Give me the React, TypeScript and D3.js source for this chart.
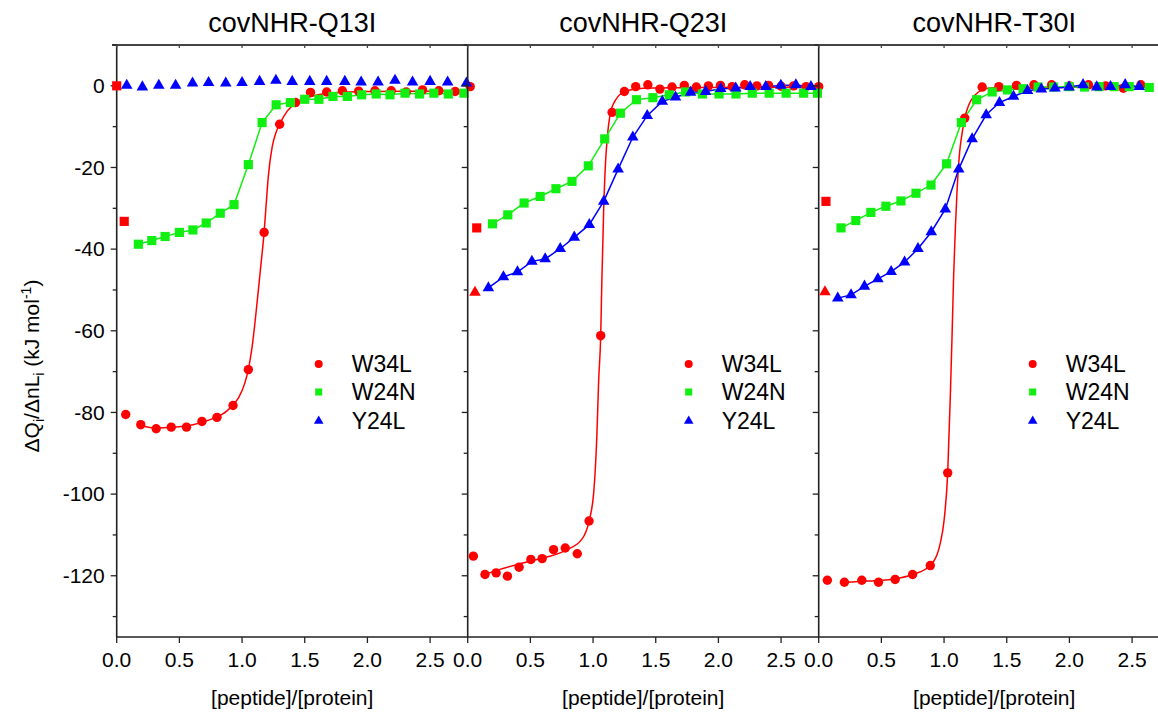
import * as d3 from "d3";

type Pt = [number, number];

const W = 1158;
const H = 713;

const panelTitles = ["covNHR-Q13I", "covNHR-Q23I", "covNHR-T30I"];
const seriesNames = ["W34L", "W24N", "Y24L"];
const seriesColors = ["#ff0000", "#11ee11", "#0000ff"];
const xTicks = [0, 0.5, 1.0, 1.5, 2.0, 2.5];
const yTicks = [0, -20, -40, -60, -80, -100, -120];
const yMinorTicks = [10, -10, -30, -50, -70, -90, -110, -130];
const xLabel = "[peptide]/[protein]";

// covNHR-Q13I
const q13iW34L: Pt[] = [[0.072, -80.5], [0.192, -83.0], [0.315, -84.0], [0.435, -83.6], [0.557, -83.6], [0.68, -82.2], [0.8, -81.2], [0.928, -78.3], [1.05, -69.5], [1.176, -35.9], [1.3, -9.4], [1.426, -4.1], [1.546, -1.6], [1.675, -1.5], [1.8, -1.2], [1.93, -1.3], [2.06, -1.2], [2.19, -1.2], [2.31, -1.5], [2.44, -1.0], [2.57, -1.2], [2.7, -1.4], [2.82, -0.2]];
const q13iW34LFit: Pt[] = [[0.19, -83.2], [0.3, -83.8], [0.45, -83.6], [0.6, -83.1], [0.75, -81.7], [0.88, -79.6], [0.97, -76.5], [1.02, -73], [1.05, -69.5], [1.08, -64], [1.11, -56], [1.14, -47], [1.16, -41], [1.176, -35.9], [1.19, -30], [1.21, -22], [1.24, -15], [1.27, -11.5], [1.3, -9.4], [1.36, -6.2], [1.43, -4.2], [1.55, -2.6], [1.7, -1.8], [2.0, -1.4], [2.4, -1.3], [2.8, -1.2]];
const q13iW24N: Pt[] = [[0.173, -38.8], [0.28, -37.9], [0.386, -36.9], [0.5, -35.9], [0.608, -35.3], [0.714, -33.6], [0.826, -31.2], [0.936, -29.1], [1.05, -19.3], [1.16, -9.0], [1.272, -4.65], [1.386, -4.1], [1.5, -3.3], [1.613, -3.3], [1.725, -2.6], [1.84, -2.6], [1.954, -2.2], [2.07, -2.0], [2.18, -2.2], [2.3, -1.8], [2.416, -2.0], [2.53, -1.8], [2.645, -2.0], [2.77, -1.8]];
const q13iW24NOut: Pt[] = [[0.0, 0.0], [0.06, -33.2]];
const q13iY24L: Pt[] = [[0.08, 0.1], [0.205, -0.3], [0.336, 0.1], [0.47, 0.1], [0.605, 0.65], [0.733, 0.8], [0.87, 0.65], [1.0, 0.8], [1.14, 1.05], [1.27, 1.3], [1.4, 1.05], [1.54, 1.05], [1.675, 1.05], [1.82, 1.05], [1.95, 0.9], [2.085, 0.9], [2.22, 1.3], [2.36, 0.9], [2.5, 1.05], [2.64, 0.9], [2.79, 0.65]];
const q13iY24LOut: Pt[] = [];

// covNHR-Q23I
const q23iW34L: Pt[] = [[0.045, -115.2], [0.138, -119.7], [0.227, -119.3], [0.317, -120.1], [0.41, -117.9], [0.504, -116.0], [0.594, -115.8], [0.685, -113.6], [0.778, -113.2], [0.874, -114.6], [0.968, -106.6], [1.061, -61.2], [1.152, -6.5], [1.25, -1.4], [1.34, -0.2], [1.437, 0.25], [1.533, -0.8], [1.63, -0.3], [1.728, 0.1], [1.824, -0.3], [1.92, 0], [2.016, 0.1], [2.11, -0.2], [2.21, 0.25], [2.307, 0], [2.4, 0.1], [2.5, -0.1], [2.6, 0], [2.7, -0.2], [2.8, -0.2]];
const q23iW34LFit: Pt[] = [[0.138, -119.7], [0.25, -118.5], [0.5, -116.4], [0.78, -113.8], [0.91, -111.1], [0.968, -106.6], [1.005, -99.7], [1.03, -86], [1.045, -72], [1.061, -61.2], [1.07, -48], [1.085, -30], [1.1, -18.5], [1.112, -13.2], [1.138, -6.7], [1.17, -4], [1.205, -2.4], [1.25, -1.4], [1.4, -0.6], [1.8, -0.4], [2.8, -0.3]];
const q23iW24N: Pt[] = [[0.197, -33.8], [0.32, -31.6], [0.45, -28.7], [0.578, -27.1], [0.704, -25.2], [0.832, -23.4], [0.962, -19.6], [1.093, -13.0], [1.218, -6.7], [1.346, -3.4], [1.477, -2.9], [1.608, -2.2], [1.738, -1.5], [1.872, -2.0], [2.005, -2.0], [2.14, -2.0], [2.27, -1.8], [2.405, -1.8], [2.54, -1.8], [2.68, -1.8], [2.79, -1.8]];
const q23iW24NOut: Pt[] = [[0.072, -34.8]];
const q23iY24L: Pt[] = [[0.165, -49.5], [0.285, -46.8], [0.397, -45.6], [0.512, -43.0], [0.618, -42.4], [0.738, -39.9], [0.85, -37.1], [0.97, -34.0], [1.085, -28.3], [1.2, -20.4], [1.317, -12.6], [1.432, -7.3], [1.552, -3.8], [1.658, -2.8], [1.778, -1.6], [1.898, -1.4], [2.018, -0.7], [2.138, -0.6], [2.253, -0.2], [2.378, -0.2], [2.498, 0.1], [2.618, 0.2], [2.738, -0.2]];
const q23iY24LOut: Pt[] = [[0.058, -50.6]];

// covNHR-T30I
const t30iW34L: Pt[] = [[0.069, -121.1], [0.205, -121.6], [0.344, -121.1], [0.477, -121.6], [0.61, -120.9], [0.749, -119.7], [0.89, -117.5], [1.029, -94.8], [1.165, -7.9], [1.304, -0.3], [1.437, -0.2], [1.578, 0.1], [1.717, 0.25], [1.858, 0.25], [2.0, 0], [2.152, 0.25], [2.29, 0], [2.43, -0.6], [2.57, 0.25]];
const t30iW34LFit: Pt[] = [[0.205, -121.6], [0.4, -121.3], [0.6, -120.8], [0.75, -119.7], [0.89, -117.5], [0.97, -112], [1.0, -106.5], [1.029, -94.8], [1.05, -76], [1.064, -61], [1.077, -45.9], [1.09, -35], [1.104, -25.5], [1.125, -16], [1.144, -11.6], [1.165, -7.9], [1.197, -4.7], [1.25, -2.2], [1.304, -1.0], [1.4, -0.5], [2.6, -0.2]];
const t30iW24N: Pt[] = [[0.178, -34.8], [0.296, -33.0], [0.416, -31.0], [0.536, -29.5], [0.656, -28.2], [0.776, -26.3], [0.896, -24.3], [1.02, -19.1], [1.138, -9.0], [1.26, -3.4], [1.384, -1.5], [1.506, -1.0], [1.63, -0.7], [1.75, -0.3], [1.874, -0.3], [1.997, -0.2], [2.12, -0.3], [2.237, -0.2], [2.357, -0.2], [2.477, -0.2], [2.637, -0.4]];
const t30iW24NOut: Pt[] = [[0.058, -28.3]];
const t30iY24L: Pt[] = [[0.152, -52.0], [0.258, -51.2], [0.365, -49.1], [0.472, -47.3], [0.578, -45.5], [0.685, -43.2], [0.792, -39.9], [0.898, -35.8], [1.01, -30.2], [1.117, -20.4], [1.224, -13.0], [1.336, -7.1], [1.442, -4.1], [1.554, -2.6], [1.666, -1.2], [1.776, -0.8], [1.885, -0.6], [1.997, -0.3], [2.109, 0.25], [2.218, -0.3], [2.328, -0.2], [2.445, 0.25], [2.557, -0.2]];
const t30iY24LOut: Pt[] = [[0.05, -50.5]];

const panels = [
  { w34l: q13iW34L, fit: q13iW34LFit, w24n: q13iW24N, w24nOut: q13iW24NOut, y24l: q13iY24L, y24lOut: q13iY24LOut, y24lLine: false, legendDx: 202 },
  { w34l: q23iW34L, fit: q23iW34LFit, w24n: q23iW24N, w24nOut: q23iW24NOut, y24l: q23iY24L, y24lOut: q23iY24LOut, y24lLine: true, legendDx: 221 },
  { w34l: t30iW34L, fit: t30iW34LFit, w24n: t30iW24N, w24nOut: t30iW24NOut, y24l: t30iY24L, y24lOut: t30iY24LOut, y24lLine: true, legendDx: 214 },
];

// layout
const firstLeft = 116.7;
const panelW = 351;
const top = 45;
const bottom = 637;
const font = "'Liberation Sans', Arial, sans-serif";

const y = d3.scaleLinear().domain([-135, 10]).range([bottom, top]);

const circle = d3.symbol().type(d3.symbolCircle).size(Math.PI * 4.7 * 4.7);
const square = d3.symbol().type(d3.symbolSquare).size(84);
const triangle = d3.symbol().type(d3.symbolTriangle).size(58);
const legCircle = d3.symbol().type(d3.symbolCircle).size(Math.PI * 4 * 4);
const legSquare = d3.symbol().type(d3.symbolSquare).size(50);
const legTriangle = d3.symbol().type(d3.symbolTriangle).size(40);

const Panel = ({ i }: { i: number }) => {
  const p = panels[i];
  const left = firstLeft + i * panelW;
  const x = d3.scaleLinear().domain([0, 2.8]).range([left, left + panelW]);
  const straight = d3.line<Pt>().x((d) => x(d[0])).y((d) => y(d[1]));
  const smooth = d3.line<Pt>().x((d) => x(d[0])).y((d) => y(d[1])).curve(d3.curveMonotoneX);
  const marks = (data: Pt[], path: string | null, color: string, key: string) =>
    data.map((d, k) => (
      <path key={key + k} d={path ?? ""} transform={`translate(${x(d[0])},${y(d[1])})`} fill={color} />
    ));
  const legendY = [364, 392, 421];
  const legPaths = [legCircle(), legSquare(), legTriangle()];
  return (
    <g>
      {/* title */}
      <text x={left + panelW / 2} y={32} textAnchor="middle" fontSize={27} fontFamily={font}>
        {panelTitles[i]}
      </text>
      {/* left axis */}
      <line x1={left} x2={left} y1={top} y2={bottom} stroke="#222" strokeWidth={1.6} />
      {yTicks.map((t) => (
        <line key={"yt" + t} x1={left - 6} x2={left} y1={y(t)} y2={y(t)} stroke="#222" strokeWidth={1.3} />
      ))}
      {yMinorTicks.map((t) => (
        <line key={"ym" + t} x1={left - 4} x2={left} y1={y(t)} y2={y(t)} stroke="#222" strokeWidth={1.3} />
      ))}
      {i === 0 &&
        yTicks.map((t) => (
          <text key={"yl" + t} x={left - 12} y={y(t)} dy="0.35em" textAnchor="end" fontSize={21} fontFamily={font}>
            {t}
          </text>
        ))}
      {/* bottom axis */}
      <line x1={left} x2={left + panelW} y1={bottom} y2={bottom} stroke="#222" strokeWidth={1.6} />
      {xTicks.map((t) => (
        <g key={"xt" + t}>
          <line x1={x(t)} x2={x(t)} y1={bottom} y2={bottom + 6} stroke="#222" strokeWidth={1.3} />
          <line x1={x(t)} x2={x(t)} y1={top} y2={top + 3} stroke="#444" strokeWidth={1.3} />
          <text x={x(t)} y={667} textAnchor="middle" fontSize={21} fontFamily={font}>
            {t.toFixed(1)}
          </text>
        </g>
      ))}
      <text x={left + panelW / 2} y={705} textAnchor="middle" fontSize={21} fontFamily={font}>
        {xLabel}
      </text>
      {/* lines */}
      <path d={smooth(p.fit) ?? ""} fill="none" stroke={seriesColors[0]} strokeWidth={1.5} />
      <path d={straight(p.w24n) ?? ""} fill="none" stroke={seriesColors[1]} strokeWidth={1.5} />
      {p.y24lLine && <path d={straight(p.y24l) ?? ""} fill="none" stroke={seriesColors[2]} strokeWidth={1.5} />}
      {/* markers */}
      {marks(p.w24nOut, square(), seriesColors[0], "wo")}
      {marks(p.y24lOut, triangle(), seriesColors[0], "yo")}
      {marks(p.w34l, circle(), seriesColors[0], "r")}
      {marks(p.w24n, square(), seriesColors[1], "g")}
      {marks(p.y24l, triangle(), seriesColors[2], "b")}
      {/* legend */}
      {seriesNames.map((n, k) => (
        <g key={"lg" + n}>
          <path d={legPaths[k] ?? ""} transform={`translate(${left + p.legendDx},${legendY[k]})`} fill={seriesColors[k]} />
          <text x={left + p.legendDx + 33} y={legendY[k]} dy="0.36em" fontSize={23} fontFamily={font}>
            {n}
          </text>
        </g>
      ))}
    </g>
  );
};

export default function App() {
  return (
    <svg
      width={W}
      height={H}
      viewBox={`0 0 ${W} ${H}`}
      style={{ position: "absolute", left: 0, top: 0, background: "#fff" }}
    >
      <line x1={112} x2={W} y1={top} y2={top} stroke="#444" strokeWidth={1.8} />
      {panelTitles.map((_, i) => (
        <Panel key={i} i={i} />
      ))}
      <text
        transform={`translate(39,366) rotate(-90)`}
        textAnchor="middle"
        fontSize={21}
        fontFamily={font}
      >
        ΔQ<tspan dy={5} fontSize={14}>i</tspan>
        <tspan dy={-5}>/ΔnL</tspan>
        <tspan dy={5} fontSize={14}>i</tspan>
        <tspan dy={-5}> (kJ mol</tspan>
        <tspan dy={-8} fontSize={14}>-1</tspan>
        <tspan dy={8}>)</tspan>
      </text>
    </svg>
  );
}
